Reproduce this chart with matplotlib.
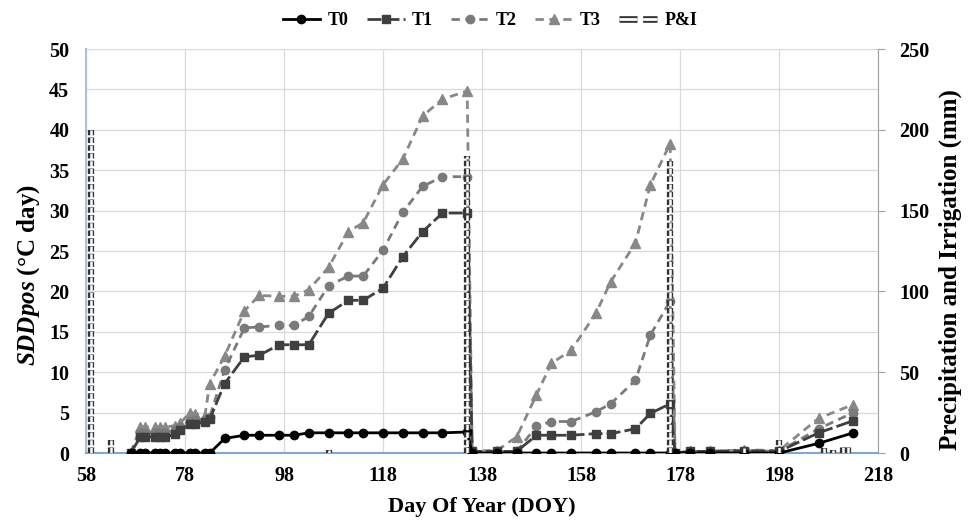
import matplotlib
matplotlib.use("Agg")
import matplotlib.pyplot as plt
import matplotlib.patheffects as pe
from matplotlib.lines import Line2D
import numpy as np

plt.rcParams['font.family'] = ['Liberation Serif', 'DejaVu Serif']
plt.rcParams['font.weight'] = 'bold'
plt.rcParams['mathtext.fontset'] = 'custom'
plt.rcParams['mathtext.it'] = 'Liberation Serif:bold:italic'
plt.rcParams['mathtext.rm'] = 'Liberation Serif:bold'

# ---- data ----
doy = [67, 69, 70, 72, 73, 74, 76, 77, 79, 80, 82, 83,
       86, 90, 93, 97, 100, 103, 107, 111, 114, 118, 122, 126, 130, 135,
       136, 141, 145, 149, 152, 156, 161, 164, 169, 172, 176,
       177, 180, 184, 191, 198, 206, 213]

t0 = [0, 0, 0, 0, 0, 0, 0, 0, 0, 0, 0, 0,
      1.8, 2.2, 2.2, 2.2, 2.2, 2.5, 2.5, 2.5, 2.5, 2.5, 2.5, 2.5, 2.5, 2.6,
      0, 0, 0, 0, 0, 0, 0, 0, 0, 0, 0,
      0, 0, 0, 0, 0, 1.2, 2.5]
t1 = [0, 2.0, 2.0, 2.0, 2.0, 2.0, 2.3, 2.8, 3.6, 3.6, 3.8, 4.2,
      8.6, 11.9, 12.1, 13.4, 13.4, 13.4, 17.3, 18.9, 18.9, 20.4, 24.3, 27.4, 29.7, 29.7,
      0.2, 0.2, 0.2, 2.2, 2.2, 2.2, 2.4, 2.4, 3.0, 4.9, 6.1,
      0, 0.2, 0.2, 0.3, 0.2, 2.5, 4.0]
t2 = [0, 2.5, 2.5, 2.5, 2.5, 2.5, 2.8, 3.2, 4.0, 4.1, 4.1, 4.5,
      10.3, 15.5, 15.6, 15.8, 15.8, 16.9, 20.7, 21.9, 21.9, 25.1, 29.8, 33.0, 34.2, 34.2,
      0.2, 0.2, 0.2, 3.3, 3.9, 3.9, 5.1, 6.1, 9.0, 14.6, 18.8,
      0, 0.2, 0.2, 0.3, 0.2, 3.0, 5.0]
t3 = [0, 3.2, 3.2, 3.2, 3.2, 3.2, 3.4, 3.7, 5.0, 4.8, 4.6, 8.6,
      12.0, 17.6, 19.5, 19.4, 19.4, 20.2, 23.0, 27.4, 28.5, 33.2, 36.4, 41.7, 43.8, 44.8,
      0.3, 0.3, 2.0, 7.2, 11.1, 12.7, 17.3, 21.2, 26.0, 33.2, 38.3,
      0, 0.2, 0.2, 0.4, 0.3, 4.3, 6.0]

pi_doy = [59, 63, 107, 135, 176, 191, 198, 207, 209, 211, 212]
pi_mm = [200, 8, 2, 184, 181, 3, 8, 3, 2, 4, 4]

xticks = [58, 78, 98, 118, 138, 158, 178, 198, 218]
yticks_left = [0, 5, 10, 15, 20, 25, 30, 35, 40, 45, 50]
yticks_right = [0, 50, 100, 150, 200, 250]

# ---- figure ----
fig = plt.figure(figsize=(9.7, 5.23), dpi=100)
ax = fig.add_axes([0.0887, 0.1338, 0.8165, 0.7725])
ax2 = ax.twinx()

l0, = ax.plot(doy, t0, color='black', lw=2.0, marker='o', ms=6, label='T0', zorder=6)
l1, = ax.plot(doy, t1, color='#3f3f3f', lw=2.0, ls=(0, (5, 1.5)), marker='s', ms=6,
              label='T1', zorder=5)
l2, = ax.plot(doy, t2, color='#7a7a7a', lw=2.0, ls=(0, (3, 2)), marker='o', ms=6,
              label='T2', zorder=4)
l3, = ax.plot(doy, t3, color='#888888', lw=2.0, ls=(0, (3, 2)), marker='^', ms=7,
              label='T3', zorder=3)

stroke = [pe.Stroke(linewidth=4.5, foreground='#333333'), pe.Normal()]
ax2.vlines(pi_doy, 0, pi_mm, colors='white', linewidth=1.8,
           linestyles=(0, (2.2, 0.9)), path_effects=stroke, zorder=7)

ax.set_xlim(58, 218)
ax.set_ylim(0, 50)
ax2.set_ylim(0, 250)
ax.set_xticks(xticks)
ax.set_yticks(yticks_left)
ax2.set_yticks(yticks_right)

ax.grid(True, color='#d9d9d9', lw=0.9)
ax.set_axisbelow(True)

for a in (ax, ax2):
    a.spines['top'].set_visible(False)
ax.spines['left'].set_color('#a9c1da')
ax.spines['left'].set_linewidth(1.5)
ax.spines['bottom'].set_color('#7fa9d3')
ax.spines['bottom'].set_linewidth(1.5)
ax.spines['right'].set_visible(False)
ax2.spines['left'].set_visible(False)
ax2.spines['bottom'].set_visible(False)
ax2.spines['right'].set_color('#a0a0a0')

ax.tick_params(axis='y', length=0, labelsize=14.5, pad=12)
ax.tick_params(axis='x', length=0, labelsize=14.5, pad=9)
ax2.tick_params(axis='y', length=5, color='#a0a0a0', labelsize=14.5, direction='out', pad=10)
for lab in ax.get_xticklabels() + ax.get_yticklabels() + ax2.get_yticklabels():
    lab.set_fontweight('bold')

ax.set_xlabel('Day Of Year (DOY)', fontsize=16, fontweight='bold')
ax.xaxis.set_label_coords(0.5, -0.11)
ax.set_ylabel(r'$\mathit{SDDpos}$ (°C day)', fontsize=18, fontweight='bold')
ax.yaxis.set_label_coords(-0.055, 0.44)
ax2.set_ylabel('Precipitation and Irrigation (mm)', fontsize=18, fontweight='bold')
ax2.yaxis.set_label_coords(1.077, 0.453)

pi_handle = Line2D([], [], color='white', lw=2.0, ls=(0, (6.5, 2)),
                   path_effects=[pe.Stroke(linewidth=4.8, foreground='#333333'), pe.Normal()],
                   label='P&I')
fig.legend(handles=[l0, l1, l2, l3, pi_handle], loc='center', ncol=5,
           bbox_to_anchor=(0.505, 0.96), frameon=False,
           prop={'family': 'Liberation Serif', 'weight': 'bold', 'size': 13},
           handlelength=2.1, columnspacing=1.0, handletextpad=0.4)

fig.savefig('out.png', dpi=100)
